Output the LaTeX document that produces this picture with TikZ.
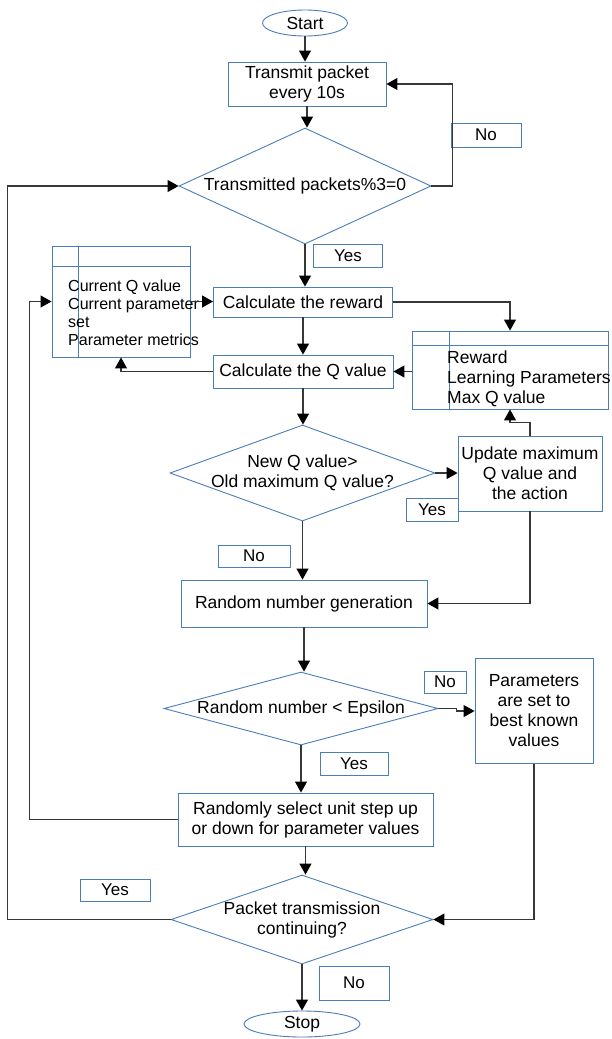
\documentclass[tikz,border=0pt]{standalone}
\usepackage{fontspec}
\setmainfont{Liberation Sans}
\usetikzlibrary{shapes.geometric,arrows.meta}
\definecolor{bl}{RGB}{74,126,187}
\definecolor{ln}{RGB}{55,55,55}
\begin{document}
\begin{tikzpicture}[x=1pt,y=-1pt,
  shp/.style={draw=bl,line width=0.9pt,inner sep=0pt},
  txt/.style={font=\fontsize{17.5}{20}\selectfont,align=center,inner sep=0pt},
  box/.style={shp,rectangle,txt},
  oval/.style={shp,ellipse,txt},
  dia/.style={shp,diamond},
  lab/.style={shp,rectangle,font=\fontsize{17}{20}\selectfont},
  conn/.style={draw=ln,line width=1.1pt,-{Triangle[length=11pt,width=12pt,color=black]}},
  tline/.style={draw=bl,line width=0.9pt}]
\useasboundingbox (0,0) rectangle (611,1039);
\fill[white] (0,0) rectangle (611,1039);

% top column
\node[oval,minimum width=85pt,minimum height=26pt] (start) at (305,23) {Start};
\node[box,minimum width=158pt,minimum height=44pt] (trans) at (307,84) {Transmit packet\\every 10s};
\node[dia,minimum width=252pt,minimum height=116pt] (d1) at (305,186) {};
\node[txt] (d1t) at (305,186) {Transmitted packets\%3=0};
\node[lab,minimum width=69pt,minimum height=23pt] (yes1) at (348,256) {Yes};
\node[lab,minimum width=70pt,minimum height=24pt] (no1) at (486,135) {No};

% reward / Q value
\node[box,minimum width=179pt,minimum height=30pt] (rew) at (303,302) {Calculate the reward};
\node[shp,rectangle,minimum width=138pt,minimum height=111pt] (lt) at (121,301.5) {};
\draw[tline] ([yshift=-21pt]lt.north west) -- ([yshift=-21pt]lt.north east);
\draw[tline] ([xshift=27pt]lt.north west) -- ([xshift=27pt]lt.south west);
\node[anchor=north west,align=left,inner sep=0pt,font=\fontsize{16}{18}\selectfont] (ltt) at (68,279.5) {Current Q value\\Current parameter\\set\\Parameter metrics};

\node[shp,rectangle,minimum width=196pt,minimum height=78pt] (rt) at (510,370) {};
\draw[tline] ([yshift=-15pt]rt.north west) -- ([yshift=-15pt]rt.north east);
\draw[tline] ([xshift=38pt]rt.north west) -- ([xshift=38pt]rt.south west);
\node[anchor=north west,align=left,inner sep=0pt,font=\fontsize{17.5}{20}\selectfont] (rtt) at (447,351) {Reward\\Learning Parameters\\Max Q value};

\node[box,minimum width=180pt,minimum height=33pt] (qv) at (303,371.5) {Calculate the Q value};

% New Q decision
\node[dia,minimum width=265pt,minimum height=96pt] (d2) at (302.5,473) {};
\node[txt] (d2t) at (302.5,473) {New Q value>\\Old maximum Q value?};
\node[box,minimum width=144pt,minimum height=75pt] (upd) at (530,473.5) {Update maximum\\Q value and\\the action};
\node[lab,minimum width=52pt,minimum height=23pt] (yes2) at (432,509.5) {Yes};
\node[lab,minimum width=72pt,minimum height=22pt] (no2) at (254,556) {No};

% random
\node[box,minimum width=246pt,minimum height=47pt] (rng) at (304,603.5) {Random number generation};
\node[dia,minimum width=274pt,minimum height=73pt] (d3) at (301,708.5) {};
\node[txt] (d3t) at (301,708.5) {Random number < Epsilon};
\node[lab,minimum width=42pt,minimum height=22pt] (no3) at (445,682) {No};
\node[box,minimum width=118pt,minimum height=105pt] (par) at (534,711) {Parameters\\are set to\\best known\\values};
\node[lab,minimum width=68pt,minimum height=23pt] (yes3) at (354,763.5) {Yes};
\node[box,minimum width=255pt,minimum height=53pt] (rsel) at (305.5,819.5) {Randomly select unit step up\\or down for parameter values};

% continue decision
\node[dia,minimum width=262pt,minimum height=89pt] (d4) at (302,919.5) {};
\node[txt] (d4t) at (302,919.5) {Packet transmission\\continuing?};
\node[lab,minimum width=70pt,minimum height=22pt] (yes4) at (115,890) {Yes};
\node[lab,minimum width=70pt,minimum height=34pt] (no4) at (354,983) {No};
\node[oval,minimum width=116pt,minimum height=26pt] (stop) at (302,1024) {Stop};

% connectors
\draw[conn] (start.south) -- (start.south |- trans.north);
\draw[conn] (trans.south) -- (trans.south |- d1.north);
\draw[conn] (d1.east) -- ++(21,0) |- (trans.east);
\draw[conn] (d4.west) -- ++(-163,0) |- (d1.west);
\draw[conn] (d1.south) -- (d1.south |- rew.north);
\draw[conn] (rsel.west) -- ++(-148,0) |- (lt.west);
\draw[conn] (lt.east) -- (rew.west |- lt.east);
\draw[conn] (rew.east) -| (rt.north);
\draw[conn] (rt.west |- qv.east) -- (qv.east);
\draw[conn] (qv.west) -| (lt.south);
\draw[conn] (rew.south) -- (rew.south |- qv.north);
\draw[conn] (qv.south) -- (qv.south |- d2.north);
\draw[conn] (d2.east) -- (upd.west |- d2.east);
\draw[conn] (upd.north) -- ++(0,-13) -| (rt.south);
\draw[conn] (upd.south) |- (rng.east);
\draw[conn] (d2.south) -- (d2.south |- rng.north);
\draw[conn] (rng.south) -- (rng.south |- d3.north);
\draw[conn] (d3.east) -- ++(18,0) |- (par.west);
\draw[conn] (d3.south) -- (d3.south |- rsel.north);
\draw[conn] (par.south) |- (d4.east);
\draw[conn] (rsel.south) -- (rsel.south |- d4.north);
\draw[conn] (d4.south) -- (d4.south |- stop.north);
\end{tikzpicture}
\end{document}
